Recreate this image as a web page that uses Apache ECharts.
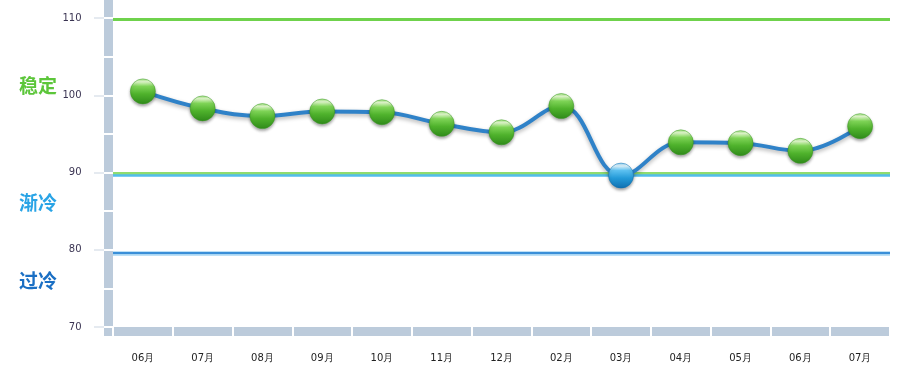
<!DOCTYPE html>
<html><head><meta charset="utf-8">
<script src="https://cdn.jsdelivr.net/npm/echarts@6/dist/echarts.min.js"></script>
<style>html,body{margin:0;padding:0;background:#fff}#c{width:911px;height:389px}</style>
</head><body><div id="c"></div>
<script>
const categories = ['06月','07月','08月','09月','10月','11月','12月','02月','03月','04月','05月','06月','07月'];
const values = [100.5, 98.3, 97.3, 97.9, 97.8, 96.3, 95.2, 98.6, 89.6, 93.9, 93.8, 92.8, 96.0];
const yTicks = [70, 80, 90, 100, 110];
const zoneNames = ['稳定', '渐冷', '过冷'];
const threshold = 90;

const greenBall = {type:'linear',x:0,y:0,x2:0,y2:1,colorStops:[
  {offset:0,color:'#9be27a'},{offset:0.12,color:'#e4fbcf'},{offset:0.3,color:'#7fd457'},{offset:0.6,color:'#4fb22c'},{offset:1,color:'#2f8a1a'}]};
const blueBall = {type:'linear',x:0,y:0,x2:0,y2:1,colorStops:[
  {offset:0,color:'#8fd2f4'},{offset:0.12,color:'#e2f6fe'},{offset:0.3,color:'#5cc0f0'},{offset:0.6,color:'#239ad8'},{offset:1,color:'#0f6fb0'}]};

const chart = echarts.init(document.getElementById('c'));
const FONT = 'DejaVu Sans';
chart.setOption({
  animation:false,
  backgroundColor:'#fff',
  grid:{left:113,right:21,top:18,bottom:62,containLabel:false},
  xAxis:[
    {type:'category',data:categories,boundaryGap:true,position:'bottom',offset:4.5,
     axisLine:{show:true,lineStyle:{color:'#bccbdb',width:9,cap:'butt'}},
     axisTick:{show:false},
     axisLabel:{margin:22,fontSize:10,color:'#222',fontFamily:FONT},
     splitLine:{show:false}},
    {type:'category',data:categories,boundaryGap:true,position:'bottom',offset:0,
     axisLine:{show:false},
     axisTick:{show:true,length:9,alignWithLabel:false,lineStyle:{color:'#ffffff',width:2,cap:'butt'}},
     axisLabel:{show:false},splitLine:{show:false}}
  ],
  yAxis:[
    {type:'value',min:yTicks[0],max:yTicks[yTicks.length-1],interval:10,position:'left',offset:4.5,
     axisLine:{show:true,lineStyle:{color:'#bccbdb',width:9,cap:'butt'}},
     axisTick:{show:true,length:14.5,lineStyle:{color:'#dde4ec',width:1.5}},
     axisLabel:{margin:27,fontSize:10,color:'#3a3452',fontFamily:FONT},
     splitLine:{show:false}},
    {type:'value',min:70,max:110,interval:5,position:'left',offset:0,
     axisLine:{show:false},
     axisTick:{show:true,length:9,lineStyle:{color:'#ffffff',width:2,cap:'butt'}},
     axisLabel:{show:false},splitLine:{show:false}}
  ],
  graphic:[
    {type:'rect',shape:{x:104,y:0,width:9,height:18},style:{fill:'#bccbdb'},silent:true},
    {type:'rect',shape:{x:104,y:328,width:8,height:8},style:{fill:'#bccbdb'},silent:true},
    {type:'text',left:19,top:76,style:{text:zoneNames[0],fill:'#5cc63a',font:'bold 19px "Noto Sans CJK SC"'}},
    {type:'text',left:19,top:193,style:{text:zoneNames[1],fill:'#29a4e6',font:'bold 19px "Noto Sans CJK SC"'}},
    {type:'text',left:19,top:271,style:{text:zoneNames[2],fill:'#1a6fc4',font:'bold 19px "Noto Sans CJK SC"'}}
  ],
  series:[{
    type:'line',xAxisIndex:0,yAxisIndex:0,smooth:0.4,
    data:values.map(v=>({value:v,itemStyle:{color:v<threshold?blueBall:greenBall,
       borderColor:v<threshold?'#1273b2':'#3a9a22',borderWidth:0.5,
       shadowColor:'rgba(0,0,0,0.35)',shadowBlur:3,shadowOffsetY:2}})),
    symbol:'circle',symbolSize:25,
    lineStyle:{color:'#2f82c8',width:4,shadowColor:'rgba(0,0,0,0.3)',shadowBlur:4,shadowOffsetY:2},
    z:5,
    markLine:{silent:true,symbol:'none',label:{show:false},z:2,
      data:[
        {yAxis:110.08,lineStyle:{color:'#f4e4a6',width:2.5,type:'solid'}},
        {yAxis:109.8,lineStyle:{color:'#6fd24c',width:3,type:'solid'}},
        {yAxis:89.94,lineStyle:{color:'#8fdc6f',width:3,type:'solid'}},
        {yAxis:89.61,lineStyle:{color:'#52bdec',width:2.5,type:'solid'}},
        {yAxis:79.58,lineStyle:{color:'#a9d6f3',width:4.5,type:'solid'}},
        {yAxis:79.58,lineStyle:{color:'#3a8fd8',width:2,type:'solid'}}
      ]}
  }]
});
</script></body></html>
